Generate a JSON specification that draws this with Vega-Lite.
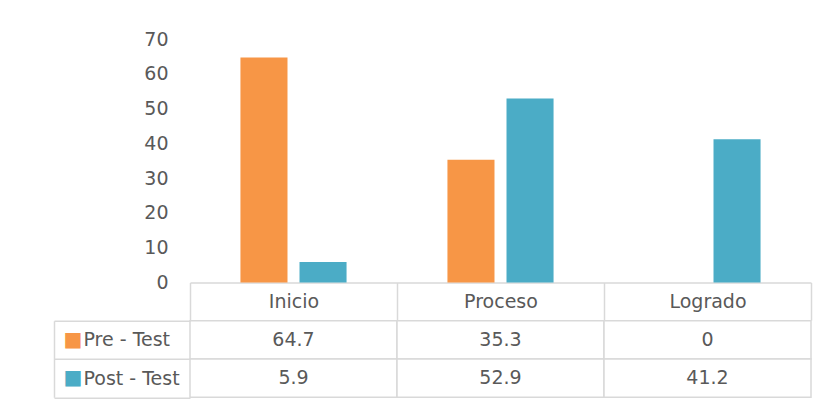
{
  "$schema": "https://vega.github.io/schema/vega-lite/v6.json",
  "padding": {"left": 53, "top": 30, "right": 10, "bottom": 2},
  "bounds": "flush",
  "spacing": 37.7,
  "datasets": {
    "scores": [
      {"Nivel": "Inicio", "Grupo": "Pre - Test", "Valor": 64.7},
      {"Nivel": "Proceso", "Grupo": "Pre - Test", "Valor": 35.3},
      {"Nivel": "Logrado", "Grupo": "Pre - Test", "Valor": 0},
      {"Nivel": "Inicio", "Grupo": "Post - Test", "Valor": 5.9},
      {"Nivel": "Proceso", "Grupo": "Post - Test", "Valor": 52.9},
      {"Nivel": "Logrado", "Grupo": "Post - Test", "Valor": 41.2}
    ]
  },
  "data": {"name": "scores"},
  "vconcat": [
    {
      "width": 621,
      "height": 243.5,
      "mark": {"type": "bar"},
      "encoding": {
        "x": {
          "field": "Nivel", "type": "nominal",
          "sort": ["Inicio", "Proceso", "Logrado"],
          "scale": {"paddingInner": 0, "paddingOuter": 0},
          "axis": {
            "title": null, "labelAngle": 0,
            "domainColor": "#d9d9d9", "domainWidth": 1.5,
            "tickBand": "extent", "tickSize": 37.7, "tickColor": "#d9d9d9", "tickWidth": 1.5,
            "labelPadding": -19, "labelBaseline": "middle",
            "labelFontSize": 19, "labelColor": "#595959"
          }
        },
        "xOffset": {
          "field": "Grupo", "type": "nominal",
          "sort": ["Pre - Test", "Post - Test"],
          "scale": {"paddingInner": 0.2034, "paddingOuter": 0.854}
        },
        "y": {
          "field": "Valor", "type": "quantitative",
          "scale": {"domain": [0, 70], "nice": false},
          "axis": {
            "title": null, "domain": false, "ticks": false, "grid": false,
            "values": [0, 10, 20, 30, 40, 50, 60, 70],
            "labelPadding": 22, "labelFontSize": 19, "labelColor": "#595959"
          }
        },
        "color": {
          "field": "Grupo", "type": "nominal",
          "scale": {"domain": ["Pre - Test", "Post - Test"], "range": ["#F79646", "#4BACC6"]},
          "legend": null
        }
      }
    },
    {
      "width": 621,
      "height": 76.6,
      "layer": [
        {
          "mark": {"type": "rect", "fill": "white", "stroke": "#d9d9d9", "strokeWidth": 1.5},
          "encoding": {
            "x": {
              "field": "Nivel", "type": "nominal",
              "sort": ["Inicio", "Proceso", "Logrado"],
              "scale": {"paddingInner": 0, "paddingOuter": 0},
              "axis": null
            },
            "y": {
              "field": "Grupo", "type": "nominal",
              "sort": ["Pre - Test", "Post - Test"],
              "scale": {"paddingInner": 0, "paddingOuter": 0},
              "axis": {
                "title": null, "orient": "left", "domain": false,
                "tickBand": "extent", "tickSize": 136, "tickColor": "#d9d9d9", "tickWidth": 1.5,
                "labelAlign": "left", "labelPadding": -29, "labelBaseline": "middle",
                "labelFontSize": 19, "labelColor": "#595959"
              }
            }
          }
        },
        {
          "mark": {"type": "text", "fontSize": 19, "color": "#595959"},
          "encoding": {
            "x": {"field": "Nivel", "type": "nominal", "sort": ["Inicio", "Proceso", "Logrado"]},
            "y": {
              "field": "Grupo", "type": "nominal",
              "sort": ["Pre - Test", "Post - Test"],
              "axis": {
                "title": null, "orient": "left", "offset": 136,
                "domain": true, "domainColor": "#d9d9d9", "domainWidth": 1.5,
                "ticks": false, "labelExpr": "'■'",
                "labelAlign": "left", "labelPadding": -9, "labelBaseline": "middle",
                "labelFontSize": 20,
                "labelColor": {"condition": {"test": "datum.value === 'Pre - Test'", "value": "#F79646"}, "value": "#4BACC6"}
              }
            },
            "text": {"field": "Valor", "type": "quantitative"}
          }
        }
      ],
      "resolve": {"axis": {"y": "independent"}}
    }
  ],
  "config": {
    "view": {"stroke": null},
    "font": "DejaVu Sans",
    "text": {"font": "DejaVu Sans"}
  }
}
